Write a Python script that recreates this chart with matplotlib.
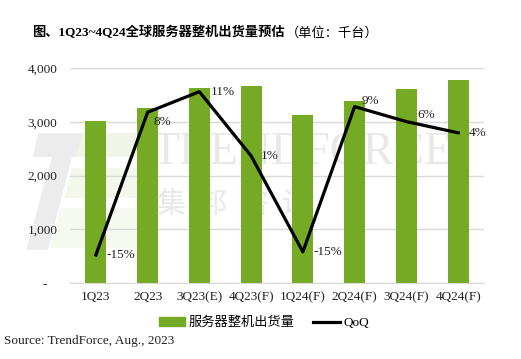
import matplotlib.pyplot as plt
from matplotlib.patches import Polygon, Patch
from matplotlib.lines import Line2D
import numpy as np

# data
quarters = ['1Q23', '2Q23', '3Q23(E)', '4Q23(F)', '1Q24(F)', '2Q24(F)', '3Q24(F)', '4Q24(F)']
shipments = [3020, 3255, 3630, 3665, 3125, 3385, 3610, 3775]
qoq = [-0.152, 0.077, 0.110, 0.007, -0.147, 0.086, 0.062, 0.044]
qoq_labels = ['-15%', '8%', '11%', '1%', '-15%', '9%', '6%', '4%']
yticks = [0, 1000, 2000, 3000, 4000]
ytick_labels = ['-   ', '1,000', '2,000', '3,000', '4,000']

green = '#74AA24'
serif = ['Liberation Serif', 'Noto Sans CJK SC']
cjk = ['Noto Sans CJK SC', 'DejaVu Sans']
plt.rcParams['font.family'] = serif

W, H = 521, 359
fig = plt.figure(figsize=(W / 100, H / 100), dpi=100)


def fx(px):
    return px / W


def fy(py):
    return 1 - py / H


# watermark (behind everything)
wm = fig.add_axes([0, 0, 1, 1], zorder=0)
wm.set_axis_off()
wm.set_xlim(0, W)
wm.set_ylim(H, 0)
wm.add_patch(Polygon([(38, 133), (98, 133), (92, 157), (72, 157), (48, 250), (26, 250), (52, 157), (33, 157)],
                     closed=True, color='#ececec', lw=0))
wm.add_patch(Polygon([(82, 133), (145, 133), (140, 157), (76, 157)], closed=True, color='#f1f5e8', lw=0))
wm.add_patch(Polygon([(72, 168), (145, 168), (140, 198), (64, 198)], closed=True, color='#f3f7ec', lw=0))
wm.add_patch(Polygon([(60, 208), (142, 208), (136, 248), (50, 248)], closed=True, color='#f6f9f0', lw=0))
wm.text(151, 153, 'TRENDFORCE', fontsize=33, color='#e8e8e8', family=serif, va='center', ha='left')
for i, ch in enumerate('集邦咨询'):
    wm.text(156 + 42 * i, 205, ch, fontsize=21, color='#e8e8e8', family=cjk, va='center', ha='left')

ax = fig.add_axes([fx(70), fy(283), fx(484) - fx(70), fy(68) - fy(283)], zorder=1)
ax.patch.set_alpha(0)
x = np.arange(len(quarters))
ax.bar(x, shipments, width=0.41, color=green, zorder=2)
ax.set_xlim(-0.5, len(quarters) - 0.5)
ax.set_ylim(0, 4000)
ax.set_yticks(yticks)
ax.set_yticklabels(ytick_labels)
ax.set_xticks(x)
ax.set_xticklabels(quarters)
ax.grid(axis='y', color='#d9d9d9', lw=1, zorder=0)
ax.set_axisbelow(True)
for s in ['top', 'right', 'left']:
    ax.spines[s].set_visible(False)
ax.spines['bottom'].set_color('#d9d9d9')
ax.tick_params(axis='both', length=0, labelsize=9.5, colors='#222222')
ax.tick_params(axis='y', pad=9)
ax.tick_params(axis='x', pad=6)

ax2 = ax.twinx()
ax2.set_ylim(-0.197, 0.148)
ax2.set_axis_off()
ax2.plot(x, qoq, color='black', lw=2.3, zorder=3)
offsets = [(8, 0), (4, -7), (8, 0), (7, 0), (8, 0), (5, 4), (8, 5), (8, 0)]
for xi, v, lab, off in zip(x, qoq, qoq_labels, offsets):
    ax2.annotate(lab, (xi, v), xytext=off, textcoords='offset points',
                 ha='left', va='center', fontsize=9.5, color='#222222')

# title in two parts
t1 = fig.text(fx(32), fy(33), '图、1Q23~4Q24全球服务器整机出货量预估', fontsize=9.5,
              fontweight='bold', family=serif, va='center', ha='left')
fig.canvas.draw()
bb = t1.get_window_extent()
fig.text(bb.x1 / W + 0.002, fy(33), '（单位：千台）', fontsize=9.5, family=cjk,
         va='center', ha='left')

handles = [Patch(color=green), Line2D([], [], color='black', lw=2.3)]
leg = fig.legend(handles, ['服务器整机出货量', 'QoQ'], loc='center', ncol=2,
                 bbox_to_anchor=(fx(264), fy(323)), frameon=False,
                 handlelength=2.0, handletextpad=0.3, columnspacing=1.4,
                 prop={'family': serif, 'size': 9.5})

fig.text(fx(4), fy(341), 'Source: TrendForce, Aug., 2023', fontsize=9.5, family=serif,
         va='center', ha='left', color='#222222')

fig.savefig('out.png', dpi=100)
